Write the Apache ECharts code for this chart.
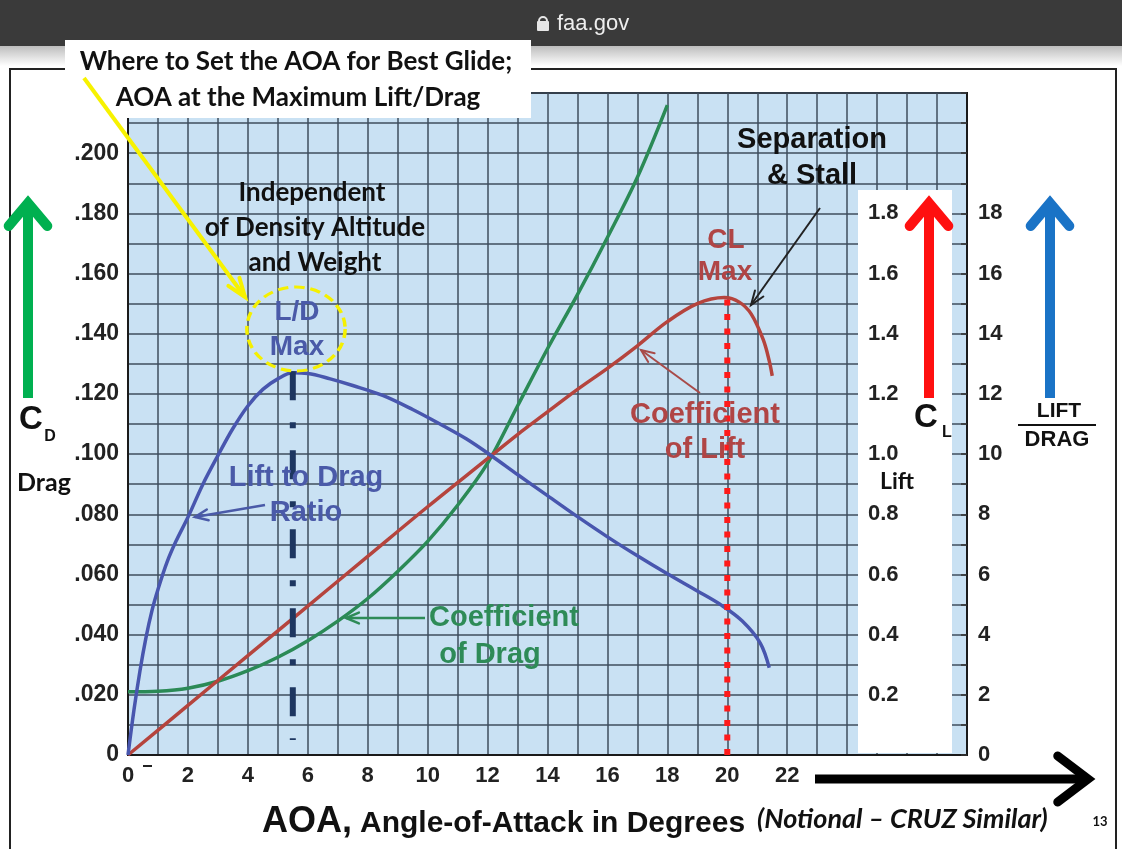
<!DOCTYPE html>
<html><head><meta charset="utf-8">
<script src="https://cdn.jsdelivr.net/npm/echarts@6/dist/echarts.min.js"></script>
<style>html,body{margin:0;padding:0;background:#fff}#c{width:1122px;height:849px}</style>
</head><body><div id="c"></div>
<script>
// ---- data ----
const aoaLabels = [0, 2, 4, 6, 8, 10, 12, 14, 16, 18, 20, 22];
const cdTickLabels = ['0', '.020', '.040', '.060', '.080', '.100', '.120', '.140', '.160', '.180', '.200'];
const clTickLabels = ['0.2', '0.4', '0.6', '0.8', '1.0', '1.2', '1.4', '1.6', '1.8'];
const ldTickLabels = ['0', '2', '4', '6', '8', '10', '12', '14', '16', '18'];

const cdAoa    = [0, 1, 2, 3, 4, 5, 6, 7, 8, 9, 10, 11, 12, 13, 14, 15, 16, 17, 18];
const cdValues = [0.0210, 0.0212, 0.0222, 0.0245, 0.0280, 0.0325, 0.0380, 0.0445, 0.0520, 0.0610, 0.0710, 0.0830, 0.0970, 0.1160, 0.1350, 0.1530, 0.1720, 0.1920, 0.2160];

const clAoa    = [0, 2, 4, 6, 8, 10, 12, 13, 14, 15, 16, 17, 18, 19, 19.9, 20.4, 20.8, 21.2, 21.4, 21.5];
const clValues = [0, 0.165, 0.33, 0.495, 0.66, 0.825, 0.985, 1.065, 1.14, 1.215, 1.285, 1.36, 1.44, 1.50, 1.52, 1.505, 1.465, 1.38, 1.31, 1.26];

const ldAoa    = [0, 0.2, 0.4, 0.6, 0.8, 1.0, 1.3, 1.6, 2.0, 2.5, 3.0, 3.5, 4.0, 4.5, 5.0, 5.5, 6.0, 6.75, 7.5, 8.5, 9.5, 10.5, 11.3, 12.15, 13, 14, 15, 16, 17, 18, 19, 19.8, 20.5, 21.1, 21.4];
const ldValues = [0, 1.5, 2.8, 3.9, 4.8, 5.5, 6.4, 7.1, 7.9, 9.0, 9.95, 10.85, 11.6, 12.15, 12.5, 12.7, 12.68, 12.5, 12.28, 11.95, 11.48, 10.95, 10.5, 9.93, 9.32, 8.62, 7.92, 7.25, 6.62, 6.02, 5.45, 4.98, 4.45, 3.72, 2.9];

const ldMaxAoa = 5.5, ldMaxTop = 12.75, ldMaxBottom = 0.5;
const clMaxAoa = 20, clMaxTop = 1.52;

const zip = (xs, ys) => xs.map((x, i) => [x, ys[i]]);

const AR = 'Liberation Sans', CAL = 'Lato';
function txt(text, x, y, font, fill, align, extra) {
  return Object.assign({ type: 'text', z: 100, style: { text: text, x: x, y: y, font: font, fill: fill, textAlign: align || 'center', textVerticalAlign: 'middle' } }, extra || {});
}
function arrow(x1, y1, x2, y2, color, w, head, spread) {
  const a = Math.atan2(y2 - y1, x2 - x1);
  const s = spread || 0.45;
  const p1 = [x2 - head * Math.cos(a - s), y2 - head * Math.sin(a - s)];
  const p2 = [x2 - head * Math.cos(a + s), y2 - head * Math.sin(a + s)];
  return [
    { type: 'line', z: 100, shape: { x1: x1, y1: y1, x2: x2, y2: y2 }, style: { stroke: color, lineWidth: w, lineCap: 'butt' } },
    { type: 'polyline', z: 100, shape: { points: [p1, [x2, y2], p2] }, style: { stroke: color, lineWidth: w, lineJoin: 'miter', lineCap: 'round', fill: null } }
  ];
}

const graphics = [
  { type: 'rect', z: 50, shape: { x: 0, y: 0, width: 1122, height: 46 }, style: { fill: '#3a3a3a' } },
  { type: 'rect', z: 50, shape: { x: 0, y: 46, width: 1122, height: 20 }, style: { fill: new echarts.graphic.LinearGradient(0, 0, 0, 1, [{ offset: 0, color: '#bdbdbd' }, { offset: 1, color: '#ffffff' }]) } },
  { type: 'rect', z: 51, shape: { x: 537, y: 21, width: 12, height: 10, r: 1 }, style: { fill: '#e6e6e6' } },
  { type: 'arc', z: 51, shape: { cx: 543, cy: 21, r: 4, startAngle: Math.PI, endAngle: 2 * Math.PI }, style: { stroke: '#e6e6e6', lineWidth: 2, fill: null } },
  txt('faa.gov', 557, 24, '22px "' + AR + '"', '#eeeeee', 'left'),
  { type: 'polyline', z: 40, shape: { points: [[10, 849], [10, 69], [1116, 69], [1116, 849]] }, style: { stroke: '#222', lineWidth: 2, fill: null } },
  { type: 'rect', z: 1, shape: { x: 858, y: 190, width: 94, height: 563 }, style: { fill: '#ffffff' } },
  { type: 'rect', z: 60, shape: { x: 65, y: 40, width: 466, height: 78 }, style: { fill: '#ffffff' } },
  txt('Where to Set the AOA for Best Glide;', 296, 62, 'bold 26px "' + CAL + '"', '#111', 'center', { z: 61 }),
  txt('AOA at the Maximum Lift/Drag', 298, 98, 'bold 26px "' + CAL + '"', '#111', 'center', { z: 61 }),
  txt('Independent', 312, 193, 'bold 26px "' + CAL + '"', '#111'),
  txt('of Density Altitude', 315, 228, 'bold 26px "' + CAL + '"', '#111'),
  txt('and Weight', 315, 263, 'bold 26px "' + CAL + '"', '#111'),
  { type: 'circle', z: 100, shape: { cx: 0, cy: 0, r: 42 }, x: 296, y: 329, scaleX: 1.17, scaleY: 1, style: { stroke: '#f5f000', lineWidth: 3, lineDash: [9, 5], fill: null } },
  txt('L/D', 297, 312, 'bold 28px "' + AR + '"', '#4a5aa8'),
  txt('Max', 297, 347, 'bold 28px "' + AR + '"', '#4a5aa8'),
  txt('Lift to Drag', 306, 478, 'bold 29px "' + AR + '"', '#4a5aa8'),
  txt('Ratio', 306, 513, 'bold 29px "' + AR + '"', '#4a5aa8'),
  txt('Coefficient', 504, 618, 'bold 29px "' + AR + '"', '#2e8b57'),
  txt('of Drag', 490, 655, 'bold 29px "' + AR + '"', '#2e8b57'),
  txt('CL', 726, 240, 'bold 28px "' + AR + '"', '#b04545'),
  txt('Max', 725, 272, 'bold 28px "' + AR + '"', '#b04545'),
  txt('Coefficient', 705, 415, 'bold 29px "' + AR + '"', '#b04545'),
  txt('of Lift', 705, 450, 'bold 29px "' + AR + '"', '#b04545'),
  txt('Separation', 812, 140, 'bold 29px "' + AR + '"', '#111'),
  txt('& Stall', 812, 176, 'bold 29px "' + AR + '"', '#111'),
  txt('C', 31, 420, 'bold 33px "' + AR + '"', '#111'),
  txt('D', 50, 437, 'bold 16px "' + AR + '"', '#111'),
  txt('Drag', 44, 483, 'bold 25px "' + CAL + '"', '#111'),
  txt('C', 926, 418, 'bold 33px "' + AR + '"', '#111'),
  txt('L', 947, 433, 'bold 16px "' + AR + '"', '#111'),
  txt('Lift', 897, 482, 'bold 23px "' + CAL + '"', '#111'),
  txt('LIFT', 1059, 411, 'bold 21px "' + AR + '"', '#111'),
  { type: 'line', z: 100, shape: { x1: 1018, y1: 425, x2: 1096, y2: 425 }, style: { stroke: '#111', lineWidth: 2 } },
  txt('DRAG', 1057, 440, 'bold 22px "' + AR + '"', '#111'),
  { type: 'line', z: 100, shape: { x1: 143, y1: 766, x2: 152, y2: 766 }, style: { stroke: '#222', lineWidth: 2 } },
  txt('AOA,', 262, 822, 'bold 36px "' + AR + '"', '#111', 'left'),
  txt('Angle-of-Attack in Degrees', 360, 824, 'bold 30px "' + AR + '"', '#111', 'left'),
  txt('(Notional \u2013 CRUZ Similar)', 757, 819, 'italic bold 27px "' + CAL + '"', '#111', 'left'),
  txt('13', 1100, 822, 'bold 13px "' + CAL + '"', '#111')
];
[].concat(
  arrow(84, 78, 245, 297, '#f7f200', 4, 20, 0.35),
  arrow(265, 505, 195, 517, '#4a5aa8', 2.5, 14, 0.4),
  arrow(425, 618, 346, 618, '#2e8b57', 2.5, 14, 0.4),
  arrow(700, 393, 641, 350, '#a84a48', 2, 14, 0.4),
  arrow(820, 208, 751, 305, '#222', 2, 15, 0.35),
  arrow(28, 398, 28, 203, '#00b050', 10, 30, 0.7),
  arrow(929, 398, 929, 203, '#ff1010', 10, 30, 0.7),
  arrow(1050, 398, 1050, 203, '#1a73c6', 10, 30, 0.7),
  arrow(815, 779, 1088, 779, '#000', 9, 38, 0.65)
).forEach(e => graphics.push(e));

const chart = echarts.init(document.getElementById('c'), null, { renderer: 'canvas' });
const gridLine = { show: true, lineStyle: { color: '#3e4d5c', width: 1.5 } };
const lbl = { color: '#222', fontFamily: AR, fontWeight: 'bold', fontSize: 22 };
chart.setOption({
  animation: false,
  backgroundColor: '#ffffff',
  grid: { left: 128, right: 155, top: 93, bottom: 94, show: true, backgroundColor: '#c9e1f3', borderColor: '#1a1a1a', borderWidth: 2 },
  xAxis: {
    type: 'value', min: 0, max: 28, interval: 1,
    axisLine: { show: true, lineStyle: { color: '#1a1a1a', width: 2 } },
    axisTick: { show: false },
    splitLine: gridLine,
    axisLabel: Object.assign({ margin: 10, formatter: v => (aoaLabels.indexOf(v) >= 0 ? String(v) : '') }, lbl)
  },
  yAxis: [
    { type: 'value', min: 0, max: 0.22, interval: 0.01, position: 'left',
      axisLine: { show: true, lineStyle: { color: '#1a1a1a', width: 2 } },
      axisTick: { show: false }, splitLine: gridLine,
      axisLabel: { margin: 9, fontSize: 23, color: lbl.color, fontFamily: AR, fontWeight: 'bold',
        formatter: v => { const k = Math.round(v * 100); return (k % 2 === 0 && k / 2 < cdTickLabels.length) ? cdTickLabels[k / 2] : ''; } } },
    { type: 'value', min: 0, max: 2.2, interval: 0.1, position: 'right', offset: -109, z: 10,
      axisLine: { show: false }, axisTick: { show: false }, splitLine: { show: false },
      axisLabel: Object.assign({ margin: 10,
        formatter: v => { const k = Math.round(v * 10); return (k % 2 === 0 && k >= 2 && k <= 18) ? clTickLabels[k / 2 - 1] : ''; } }, lbl) },
    { type: 'value', min: 0, max: 22, interval: 1, position: 'right', offset: 0,
      axisLine: { show: true, lineStyle: { color: '#1a1a1a', width: 2 } },
      axisTick: { show: true, inside: true, length: 6, lineStyle: { color: '#333', width: 1.5 } },
      splitLine: { show: false },
      axisLabel: Object.assign({ margin: 11,
        formatter: v => { const k = Math.round(v); return (k % 2 === 0 && k <= 18) ? ldTickLabels[k / 2] : ''; } }, lbl) }
  ],
  series: [
    { name: 'Coefficient of Drag', type: 'line', yAxisIndex: 0, data: zip(cdAoa, cdValues), smooth: 0.35, showSymbol: false, z: 5,
      lineStyle: { color: '#2b8a56', width: 3.5 } },
    { name: 'Coefficient of Lift', type: 'line', yAxisIndex: 1, data: zip(clAoa, clValues), smooth: 0.35, showSymbol: false, z: 5,
      lineStyle: { color: '#b5443d', width: 3.5 } },
    { name: 'Lift to Drag Ratio', type: 'line', yAxisIndex: 2, data: zip(ldAoa, ldValues), smooth: 0.35, showSymbol: false, z: 6,
      lineStyle: { color: '#4856ae', width: 3.5 } },
    { name: 'L/D Max AOA', type: 'line', yAxisIndex: 2, data: [[ldMaxAoa, ldMaxTop], [ldMaxAoa, ldMaxBottom]], showSymbol: false, z: 7,
      lineStyle: { color: '#1d3660', width: 6, type: [29, 22, 6, 22], cap: 'butt' } },
    { name: 'CL Max AOA', type: 'line', yAxisIndex: 1, data: [[clMaxAoa, 0], [clMaxAoa, clMaxTop]], showSymbol: false, z: 7,
      lineStyle: { color: '#ff1a1a', width: 6, type: [6, 8.5], cap: 'butt' } }
  ],
  graphic: { elements: graphics }
});
</script></body></html>
